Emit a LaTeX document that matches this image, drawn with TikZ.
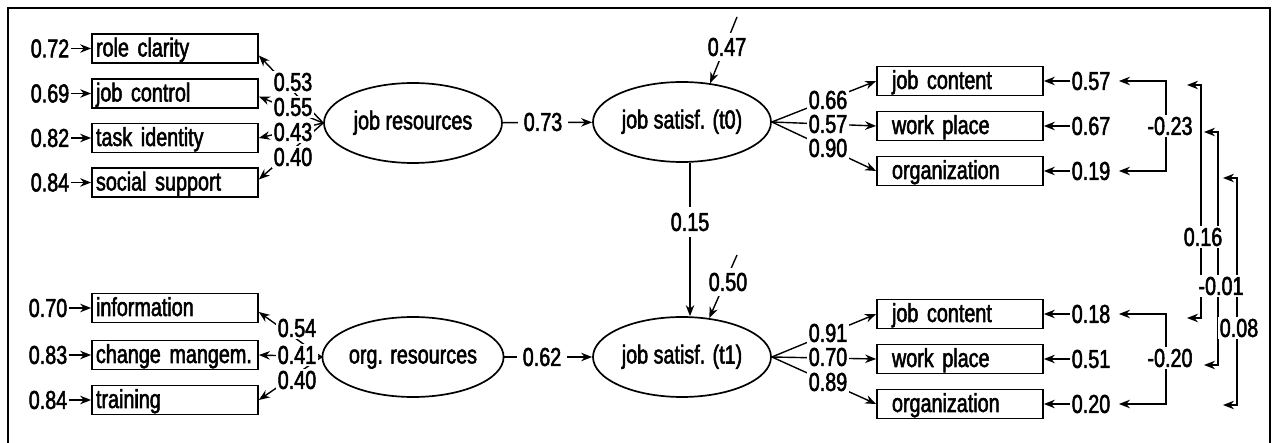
\documentclass[tikz,border=0pt]{standalone}
\usepackage{fontspec}
\setmainfont{Liberation Sans}[FakeStretch=0.76,FakeBold=2]
\usetikzlibrary{arrows.meta,shapes.geometric}
\begin{document}
\begin{tikzpicture}[x=1pt,y=-1pt,
  font=\fontsize{26}{28}\selectfont,
  box/.style={draw, line width=1.7pt, rectangle, minimum height=29pt, text height=19pt, text depth=3pt, inner ysep=0pt, align=left},
  lbox/.style={box, inner xsep=4pt, text width=158pt},
  rbox/.style={box, inner xsep=15pt, text width=136pt},
  lat/.style={draw, ellipse, line width=1.7pt, minimum width=178pt, minimum height=80pt, inner sep=0pt, text height=18pt, text depth=5pt},
  num/.style={inner sep=1.5pt},
  numw/.style={num, fill=white},
  arr/.style={line width=1.4pt, -{Stealth[length=11pt,width=8.5pt]}},
  darr/.style={line width=1.4pt, {Stealth[length=11pt,width=8.5pt]}-{Stealth[length=11pt,width=8.5pt]}},
  frame/.style={line width=2.6pt}
]
\useasboundingbox (0,0) rectangle (1278,443);
\draw[frame] (8,443) -- (8,8) -- (1270,8) -- (1270,443);

% latent variables
\node[lat] (jr) at (413,123) {job resources};
\node[lat] (t0) at (682,122) {job satisf. (t0)};
\node[lat] (or) at (413,357) {org. resources};
\node[lat] (t1) at (682,357) {job satisf. (t1)};

% left indicators
\node[lbox] (rc) at (175,48.5) {role clarity};
\node[lbox] (jc) at (175,93.5) {job control};
\node[lbox] (ti) at (175,138) {task identity};
\node[lbox] (ss) at (175,182.5) {social support};
\node[lbox] (inf) at (175,308) {information};
\node[lbox] (cm) at (175,355) {change mangem.};
\node[lbox] (tr) at (175,400) {training};

% right indicators
\node[rbox] (rjc) at (960,81) {job content};
\node[rbox] (rwp) at (960,126) {work place};
\node[rbox] (ror) at (960,171) {organization};
\node[rbox] (sjc) at (960,314) {job content};
\node[rbox] (swp) at (960,359) {work place};
\node[rbox] (sor) at (960,404) {organization};

% error labels left
\node[num] (e72) at (50,48.5) {0.72};
\node[num] (e69) at (50,93.5) {0.69};
\node[num] (e82) at (50,138) {0.82};
\node[num] (e84) at (50,182.5) {0.84};
\node[num] (e70) at (48,308) {0.70};
\node[num] (e83) at (48,355) {0.83};
\node[num] (e84b) at (48,400) {0.84};
\draw[arr] (e72) -- (rc);
\draw[arr] (e69) -- (jc);
\draw[arr] (e82) -- (ti);
\draw[arr] (e84) -- (ss);
\draw[arr] (e70) -- (inf);
\draw[arr] (e83) -- (cm);
\draw[arr] (e84b) -- (tr);

% error labels right
\node[num] (u57) at (1091,81) {0.57};
\node[num] (u67) at (1091,126) {0.67};
\node[num] (u19) at (1091,171) {0.19};
\node[num] (v18) at (1091,314) {0.18};
\node[num] (v51) at (1091,359) {0.51};
\node[num] (v20) at (1091,404) {0.20};
\draw[arr] (u57) -- (rjc);
\draw[arr] (u67) -- (rwp);
\draw[arr] (u19) -- (ror);
\draw[arr] (v18) -- (sjc);
\draw[arr] (v51) -- (swp);
\draw[arr] (v20) -- (sor);

% loadings left
\draw[arr] (jr.west) -- ([yshift=-7pt]rc.east);
\draw[arr] (jr.west) -- ([yshift=-3pt]jc.east);
\draw[arr] (jr.west) -- (ti.east);
\draw[arr] (jr.west) -- ([yshift=3pt]ss.east);
\draw[arr] (or.west) -- ([yshift=-4pt]inf.east);
\draw[arr] (or.west) -- (cm.east);
\draw[arr] (or.west) -- (tr.east);

% loadings right
\draw[arr] (t0.east) -- (rjc.west);
\draw[arr] (t0.east) -- (rwp.west);
\draw[arr] (t0.east) -- (ror.west);
\draw[arr] (t1.east) -- (sjc.west);
\draw[arr] (t1.east) -- (swp.west);
\draw[arr] (t1.east) -- (sor.west);

% structural paths
\draw[arr] (jr) -- (t0);
\draw[arr] (or) -- (t1);
\draw[arr] ([xshift=8pt]t0.south) -- ([xshift=8pt]t1.north);

% disturbances
\coordinate (d0) at (737,17);
\coordinate (d1) at (737,255);
\draw[arr] (d0) -- (t0.54);
\draw[arr] (d1) -- (t1.55);

% correlated errors (brackets)
\coordinate (k23) at (1166,126);
\coordinate (k20) at (1166,358);
\draw[arr, shorten >=7pt] (k23) |- (u57.east);
\draw[arr, shorten >=7pt] (k23) |- (u19.east);
\draw[arr, shorten >=7pt] (k20) |- (v18.east);
\draw[arr, shorten >=7pt] (k20) |- (v20.east);

% long correlations
\coordinate (a1) at (1201,85);  \coordinate (a1l) at (1187,85);
\coordinate (b1) at (1201,318); \coordinate (b1l) at (1187,318);
\coordinate (a2) at (1218,132); \coordinate (a2l) at (1204,132);
\coordinate (b2) at (1218,365); \coordinate (b2l) at (1204,365);
\coordinate (a3) at (1237,178); \coordinate (a3l) at (1223,178);
\coordinate (b3) at (1237,405); \coordinate (b3l) at (1223,405);
\draw[darr] (a1l) -- (a1) -- (b1) -- (b1l);
\draw[darr] (a2l) -- (a2) -- (b2) -- (b2l);
\draw[darr] (a3l) -- (a3) -- (b3) -- (b3l);

% labels over lines
\node[numw] (l53) at (293,82) {0.53};
\node[numw] (l55) at (293,107) {0.55};
\node[numw] (l43) at (293,132) {0.43};
\node[numw] (l40) at (293,157) {0.40};
\node[numw] (l54) at (297,328) {0.54};
\node[numw] (l41) at (297,355) {0.41};
\node[numw] (l40b) at (297,380) {0.40};
\node[numw] (l66) at (828,100) {0.66};
\node[numw] (l57) at (828,124) {0.57};
\node[numw] (l90) at (828,148) {0.90};
\node[numw] (l91) at (828,333) {0.91};
\node[numw] (l70) at (828,357) {0.70};
\node[numw] (l89) at (828,382) {0.89};
\node[numw, inner xsep=6pt] (l73) at (543,122) {0.73};
\node[numw, inner xsep=6pt] (l62) at (542,357) {0.62};
\node[numw, inner ysep=6pt] (l15) at (690,222) {0.15};
\node[numw, inner ysep=5pt] (l47) at (727,47) {0.47};
\node[numw, inner ysep=5pt] (l50) at (728,282) {0.50};
\node[numw] (m23) at (1170,126) {-0.23};
\node[numw] (m20) at (1170,358) {-0.20};
\node[numw] (c16) at (1203,237) {0.16};
\node[numw] (c01) at (1221,286) {-0.01};
\node[numw] (c08) at (1239,328) {0.08};
\end{tikzpicture}
\end{document}
